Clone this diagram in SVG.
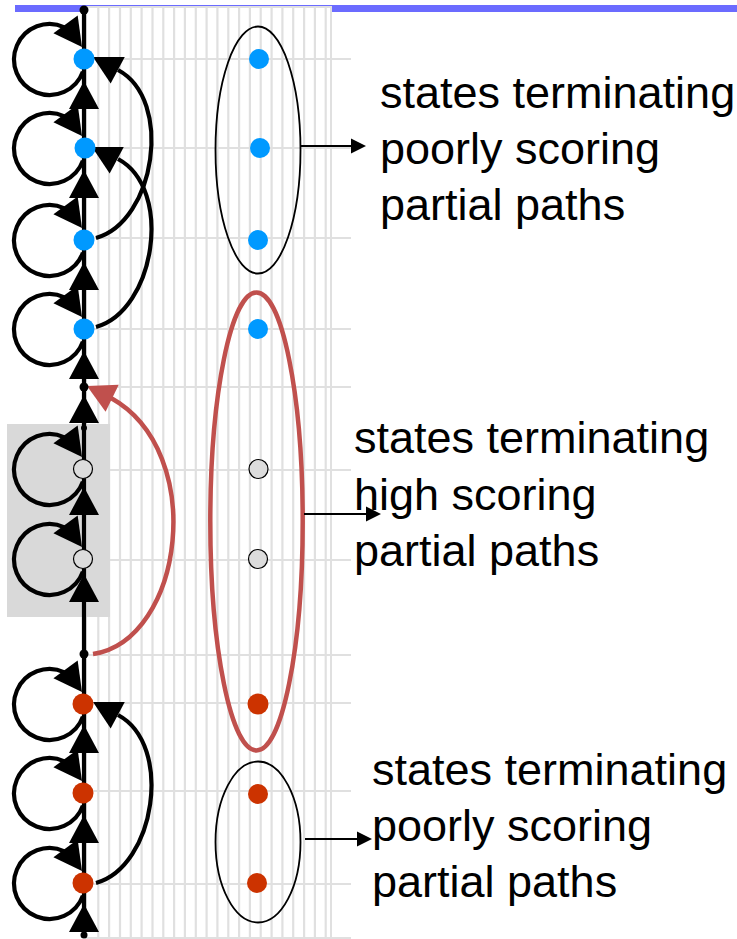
<svg xmlns="http://www.w3.org/2000/svg" xmlns:xlink="http://www.w3.org/1999/xlink" width="737" height="939" viewBox="0 0 737 939">
<defs>
<style>
.grid line{stroke:#e0e0e0;stroke-width:2.2}
.k{fill:none;stroke:#000;stroke-width:4.2}
.kr{fill:none;stroke:#c0504d;stroke-width:4.5}
.thin{fill:none;stroke:#000;stroke-width:1.8}
.blue{fill:#0099ff}
.red{fill:#cc3300}
.grey{fill:#dcdcdc;stroke:#000;stroke-width:1.2}
.lbl{font-family:"Liberation Sans",Arial,sans-serif;font-size:45px;fill:#000}
</style>
<path id="ah" d="M0,0 L-28,-15 L-28,15 Z"/>
<path id="sh" d="M0,0 L-15,-7.5 L-15,7.5 Z"/>
</defs>
<rect x="15" y="5" width="722" height="7" fill="#6b6bff"/>
<g id="grid" class="grid">
<rect x="86" y="7" width="245" height="931" fill="#fff" stroke="#e0e0e0" stroke-width="2"/>
<line x1="98.3" y1="7" x2="98.3" y2="938"/><line x1="109.1" y1="7" x2="109.1" y2="938"/><line x1="120" y1="7" x2="120" y2="938"/><line x1="130.8" y1="7" x2="130.8" y2="938"/><line x1="141.6" y1="7" x2="141.6" y2="938"/><line x1="152.5" y1="7" x2="152.5" y2="938"/><line x1="163.3" y1="7" x2="163.3" y2="938"/><line x1="174.1" y1="7" x2="174.1" y2="938"/><line x1="184.9" y1="7" x2="184.9" y2="938"/><line x1="195.8" y1="7" x2="195.8" y2="938"/><line x1="206.6" y1="7" x2="206.6" y2="938"/><line x1="217.4" y1="7" x2="217.4" y2="938"/><line x1="228.3" y1="7" x2="228.3" y2="938"/><line x1="239.1" y1="7" x2="239.1" y2="938"/><line x1="249.9" y1="7" x2="249.9" y2="938"/><line x1="260.7" y1="7" x2="260.7" y2="938"/><line x1="271.6" y1="7" x2="271.6" y2="938"/><line x1="282.4" y1="7" x2="282.4" y2="938"/><line x1="293.2" y1="7" x2="293.2" y2="938"/><line x1="304.1" y1="7" x2="304.1" y2="938"/><line x1="314.9" y1="7" x2="314.9" y2="938"/><line x1="325.7" y1="7" x2="325.7" y2="938"/>
<line x1="86" y1="59" x2="351" y2="59"/><line x1="86" y1="148" x2="351" y2="148"/><line x1="86" y1="238" x2="351" y2="238"/><line x1="86" y1="329" x2="351" y2="329"/><line x1="86" y1="387" x2="351" y2="387"/><line x1="86" y1="470" x2="351" y2="470"/><line x1="86" y1="560" x2="351" y2="560"/><line x1="86" y1="655" x2="351" y2="655"/><line x1="86" y1="703" x2="351" y2="703"/><line x1="86" y1="791" x2="351" y2="791"/><line x1="86" y1="884" x2="351" y2="884"/><line x1="86" y1="938" x2="351" y2="938"/>
</g>
<rect id="pruned-box" x="7" y="424" width="103" height="193" fill="#d9d9d9"/>

<g id="group-top" class="thin"><ellipse cx="258" cy="150" rx="42.5" ry="123.5"/></g>
<g id="group-mid"><ellipse class="kr" cx="256.5" cy="521.5" rx="46.2" ry="229"/></g>
<g id="group-bottom" class="thin"><ellipse cx="258" cy="842" rx="42.5" ry="80.5"/></g>

<g id="connectors">
<path class="k" d="M84,10 V936"/>
<g id="up-arrows">
<use href="#ah" transform="translate(84,81) rotate(-90)"/>
<use href="#ah" transform="translate(84,170) rotate(-90)"/>
<use href="#ah" transform="translate(84,262) rotate(-90)"/>
<use href="#ah" transform="translate(84,351) rotate(-90)"/>
<use href="#ah" transform="translate(84,395) rotate(-90)"/>
<use href="#ah" transform="translate(84,487) rotate(-90)"/>
<use href="#ah" transform="translate(84,574) rotate(-90)"/>
<use href="#ah" transform="translate(84,725) rotate(-90)"/>
<use href="#ah" transform="translate(84,815) rotate(-90)"/>
<use href="#ah" transform="translate(84,904) rotate(-90)"/>
</g>
<g id="loops">
<path class="k" d="M82.9,71.6 A35.5 35.5 0 1 1 64.5,27.3"/><use href="#ah" transform="translate(82,47) rotate(54)"/>
<path class="k" d="M82.9,160.6 A35.5 35.5 0 1 1 64.5,116.3"/><use href="#ah" transform="translate(82,136) rotate(54)"/>
<path class="k" d="M82.9,252.6 A35.5 35.5 0 1 1 64.5,208.3"/><use href="#ah" transform="translate(82,228) rotate(54)"/>
<path class="k" d="M82.9,341.6 A35.5 35.5 0 1 1 64.5,297.3"/><use href="#ah" transform="translate(82,317) rotate(54)"/>
<path class="k" d="M82.9,481.6 A35.5 35.5 0 1 1 64.5,437.3"/><use href="#ah" transform="translate(82,457) rotate(54)"/>
<path class="k" d="M82.9,571.6 A35.5 35.5 0 1 1 64.5,527.3"/><use href="#ah" transform="translate(82,547) rotate(54)"/>
<path class="k" d="M82.9,716.6 A35.5 35.5 0 1 1 64.5,672.3"/><use href="#ah" transform="translate(82,692) rotate(54)"/>
<path class="k" d="M82.9,805.6 A35.5 35.5 0 1 1 64.5,761.3"/><use href="#ah" transform="translate(82,781) rotate(54)"/>
<path class="k" d="M82.9,895.6 A35.5 35.5 0 1 1 64.5,851.3"/><use href="#ah" transform="translate(82,871) rotate(54)"/>
</g>
<g id="skips">
<path class="k" d="M96,238 C155,222 174,100 118,70"/><use href="#ah" transform="translate(93,57) rotate(208)"/>
<path class="k" d="M96,327 C155,311 174,189 118,159"/><use href="#ah" transform="translate(92,147) rotate(208)"/>
<path class="k" d="M96,883 C155,867 174,745 118,715"/><use href="#ah" transform="translate(93,702) rotate(208)"/>
</g>
<g id="red-skip">
<path class="kr" d="M93,654 C184,640 208,452 111,398"/><use href="#ah" fill="#c0504d" transform="translate(87,386) rotate(206)"/>
</g>
<g id="label-arrows">
<path class="thin" d="M301,146 H353"/><use href="#sh" transform="translate(366,146)"/>
<path class="thin" d="M304,514 H368"/><use href="#sh" transform="translate(381,514)"/>
<path class="thin" d="M305,839 H359"/><use href="#sh" transform="translate(372,839)"/>
</g>
</g>

<g id="left-nodes">
<circle cx="84" cy="10" r="4.5"/>
<circle cx="84" cy="387" r="4.5"/>
<circle cx="84" cy="428" r="3"/>
<circle cx="84" cy="654" r="4.5"/>
<circle cx="84" cy="935" r="3.5"/>
<g id="L1"><circle class="blue" cx="84" cy="59" r="10.5"/></g>
<g id="L2"><circle class="blue" cx="85" cy="148" r="10.5"/></g>
<g id="L3"><circle class="blue" cx="84" cy="240" r="10.5"/></g>
<g id="L4"><circle class="blue" cx="84" cy="329" r="10.5"/></g>
<g id="L5"><circle class="grey" cx="83" cy="469" r="9.5"/></g>
<g id="L6"><circle class="grey" cx="83" cy="559" r="9.5"/></g>
<g id="L7"><circle class="red" cx="83" cy="704" r="10.5"/></g>
<g id="L8"><circle class="red" cx="83" cy="793" r="10.5"/></g>
<g id="L9"><circle class="red" cx="83" cy="883" r="10.5"/></g>
</g>
<g id="right-nodes">
<g id="R1"><circle class="blue" cx="259" cy="59" r="10"/></g>
<g id="R2"><circle class="blue" cx="260" cy="148" r="10"/></g>
<g id="R3"><circle class="blue" cx="258" cy="240" r="10"/></g>
<g id="R4"><circle class="blue" cx="258" cy="329" r="10"/></g>
<g id="R5"><circle class="grey" cx="258.5" cy="469" r="9.5"/></g>
<g id="R6"><circle class="grey" cx="258" cy="559" r="9.5"/></g>
<g id="R7"><circle class="red" cx="258" cy="704" r="10.5"/></g>
<g id="R8"><circle class="red" cx="258" cy="794" r="10"/></g>
<g id="R9"><circle class="red" cx="257" cy="883" r="10"/></g>
</g>

<g id="label-top"><text class="lbl" x="380" y="108">states terminating</text><text class="lbl" x="380" y="164">poorly scoring</text><text class="lbl" x="380" y="220">partial paths</text></g>
<g id="label-mid"><text class="lbl" x="354" y="453">states terminating</text><text class="lbl" x="354" y="510">high scoring</text><text class="lbl" x="354" y="566">partial paths</text></g>
<g id="label-bottom"><text class="lbl" x="372" y="785">states terminating</text><text class="lbl" x="372" y="841">poorly scoring</text><text class="lbl" x="372" y="897">partial paths</text></g>
</svg>
